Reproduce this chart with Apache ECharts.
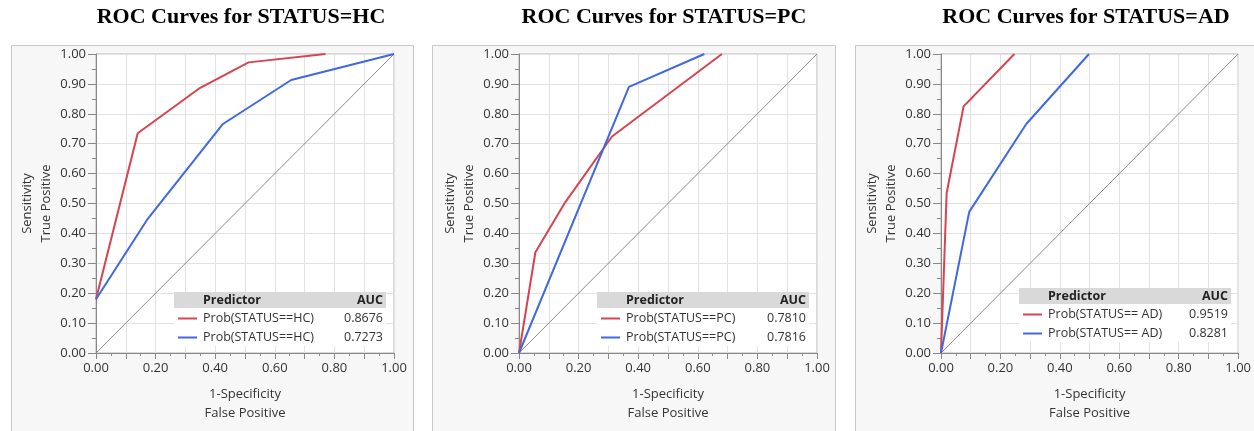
<!DOCTYPE html>
<html>
<head>
<meta charset="utf-8">
<title>ROC Curves</title>
<script src="https://cdn.jsdelivr.net/npm/echarts@6/dist/echarts.min.js"></script>
<style>
  html, body { margin: 0; padding: 0; background: #fff; }
  #chart { width: 1254px; height: 431px; }
</style>
</head>
<body>
<div id="chart"></div>
<script>
// panel titles and legend labels
const titles = ['ROC Curves for STATUS=HC', 'ROC Curves for STATUS=PC', 'ROC Curves for STATUS=AD']
const predictors = ['Prob(STATUS==HC)', 'Prob(STATUS==PC)', 'Prob(STATUS== AD)']

// HC curves (x = 1-specificity, y = sensitivity)
const hcRedX = [0, 0.14, 0.345, 0.512, 0.77]
const hcRedY = [0.18, 0.735, 0.884, 0.972, 1]
const hcBlueX = [0, 0.171, 0.426, 0.655, 1]
const hcBlueY = [0.18, 0.445, 0.766, 0.913, 1]

// PC curves
const pcRedX = [0, 0.055, 0.155, 0.312, 0.681]
const pcRedY = [0, 0.337, 0.504, 0.724, 1]
const pcBlueX = [0, 0.369, 0.622]
const pcBlueY = [0, 0.89, 1]

// AD curves
const adRedX = [0, 0.019, 0.076, 0.247]
const adRedY = [0, 0.535, 0.825, 1]
const adBlueX = [0, 0.095, 0.287, 0.498]
const adBlueY = [0, 0.472, 0.766, 1]

// AUC values shown in the legend tables
const redAuc = ['0.8676', '0.7810', '0.9519']
const blueAuc = ['0.7273', '0.7816', '0.8281']

const RED = '#d7434f'
const BLUE = '#4069e0'
const FONT = 'Open Sans'

const chart = echarts.init(document.getElementById('chart'))

const pairs = (xs, ys) => xs.map((x, i) => [x, ys[i]])
const curves = [
  [pairs(hcRedX, hcRedY), pairs(hcBlueX, hcBlueY)],
  [pairs(pcRedX, pcRedY), pairs(pcBlueX, pcBlueY)],
  [pairs(adRedX, adRedY), pairs(adBlueX, adBlueY)]
]

const plotLeft = [96, 519, 941]
const plotW = 298
const plotTop = 54
const plotH = 299
const panelBox = [[11, 402], [432, 403], [855, 420]]
const legendTop = [292, 292, 288]

const grids = []
const xAxes = []
const yAxes = []
const series = []
const graphics = []

plotLeft.forEach((left, i) => {
  grids.push({
    left: left,
    top: plotTop,
    width: plotW,
    height: plotH,
    show: true,
    backgroundColor: '#fff',
    borderColor: '#b5b5b5',
    borderWidth: 1
  })
  xAxes.push({
    gridIndex: i,
    type: 'value',
    min: 0,
    max: 1,
    interval: 0.1,
    name: '1-Specificity\nFalse Positive',
    nameLocation: 'middle',
    nameGap: 32,
    nameTextStyle: { fontFamily: FONT, fontSize: 13, color: '#333', lineHeight: 19, verticalAlign: 'top' },
    axisLine: { lineStyle: { color: '#888' } },
    axisTick: { show: true, length: 6, lineStyle: { color: '#888' } },
    minorTick: { show: true, splitNumber: 2, length: 3, lineStyle: { color: '#888' } },
    splitLine: { show: true, lineStyle: { color: '#e2e2e2' } },
    axisLabel: {
      fontFamily: FONT,
      fontSize: 13,
      color: '#333',
      margin: 9,
      formatter: v => (Math.round(v * 10) % 2 === 0 ? v.toFixed(2) : '')
    }
  })
  yAxes.push({
    gridIndex: i,
    type: 'value',
    min: 0,
    max: 1,
    interval: 0.1,
    name: 'Sensitivity\nTrue Positive',
    nameLocation: 'middle',
    nameGap: 40,
    nameRotate: 90,
    nameTextStyle: { fontFamily: FONT, fontSize: 13, color: '#333', lineHeight: 19 },
    axisLine: { show: true, lineStyle: { color: '#888' } },
    axisTick: { show: true, length: 8, lineStyle: { color: '#888' } },
    minorTick: { show: true, splitNumber: 2, length: 4, lineStyle: { color: '#888' } },
    splitLine: { show: true, lineStyle: { color: '#e2e2e2' } },
    axisLabel: {
      fontFamily: FONT,
      fontSize: 13,
      color: '#333',
      margin: 10,
      formatter: v => v.toFixed(2)
    }
  })

  // reference diagonal
  series.push({
    type: 'line',
    xAxisIndex: i,
    yAxisIndex: i,
    data: [[0, 0], [1, 1]],
    showSymbol: false,
    silent: true,
    lineStyle: { color: '#8a8a8a', width: 1 },
    z: 1
  })
  series.push({
    type: 'line',
    name: predictors[i] + ' red',
    xAxisIndex: i,
    yAxisIndex: i,
    data: curves[i][0],
    showSymbol: false,
    lineStyle: { color: RED, width: 2 },
    z: 3
  })
  series.push({
    type: 'line',
    name: predictors[i] + ' blue',
    xAxisIndex: i,
    yAxisIndex: i,
    data: curves[i][1],
    showSymbol: false,
    lineStyle: { color: BLUE, width: 2 },
    z: 3
  })

  // panel frame
  graphics.push({
    type: 'rect',
    z: -10,
    shape: { x: panelBox[i][0] + 0.5, y: 45.5, width: panelBox[i][1], height: 400 },
    style: { fill: '#f7f7f7', stroke: '#c8c8c8', lineWidth: 1 }
  })

  // title
  graphics.push({
    type: 'text',
    z: 10,
    x: left + plotW / 2 - 4,
    y: 17,
    style: {
      text: titles[i],
      font: 'bold 22px "Liberation Serif", "Times New Roman", serif',
      fill: '#000',
      align: 'center',
      verticalAlign: 'middle'
    }
  })

  // legend table
  const lx = left + 78
  const lw = plotW - 86
  const ly = legendTop[i]
  const textFont = '12.5px "Open Sans", sans-serif'
  const boldFont = 'bold 12.5px "Open Sans", sans-serif'
  const z = 100
  graphics.push(
    { type: 'rect', z, shape: { x: lx, y: ly + 16, width: lw, height: 38 }, style: { fill: '#fff' } },
    { type: 'rect', z, shape: { x: lx, y: ly, width: lw, height: 16 }, style: { fill: '#d9d9d9' } },
    { type: 'text', z: z + 1, x: lx + 29, y: ly + 8, style: { text: 'Predictor', font: boldFont, fill: '#222', verticalAlign: 'middle' } },
    { type: 'text', z: z + 1, x: lx + lw - 3, y: ly + 8, style: { text: 'AUC', font: boldFont, fill: '#222', align: 'right', verticalAlign: 'middle' } },
    { type: 'line', z: z + 1, shape: { x1: lx + 4, y1: ly + 26.5, x2: lx + 23, y2: ly + 26.5 }, style: { stroke: RED, lineWidth: 2 } },
    { type: 'text', z: z + 1, x: lx + 29, y: ly + 26, style: { text: predictors[i], font: textFont, fill: '#333', verticalAlign: 'middle' } },
    { type: 'text', z: z + 1, x: lx + lw - 3, y: ly + 26, style: { text: redAuc[i], font: textFont, fill: '#333', align: 'right', verticalAlign: 'middle' } },
    { type: 'line', z: z + 1, shape: { x1: lx + 4, y1: ly + 45.5, x2: lx + 23, y2: ly + 45.5 }, style: { stroke: BLUE, lineWidth: 2 } },
    { type: 'text', z: z + 1, x: lx + 29, y: ly + 45, style: { text: predictors[i], font: textFont, fill: '#333', verticalAlign: 'middle' } },
    { type: 'text', z: z + 1, x: lx + lw - 3, y: ly + 45, style: { text: blueAuc[i], font: textFont, fill: '#333', align: 'right', verticalAlign: 'middle' } }
  )
})

const option = {
  animation: false,
  backgroundColor: '#fff',
  grid: grids,
  xAxis: xAxes,
  yAxis: yAxes,
  series: series,
  graphic: graphics
}

chart.setOption(option)

window.addEventListener('resize', () => {
  chart.resize()
})
</script>
</body>
</html>
